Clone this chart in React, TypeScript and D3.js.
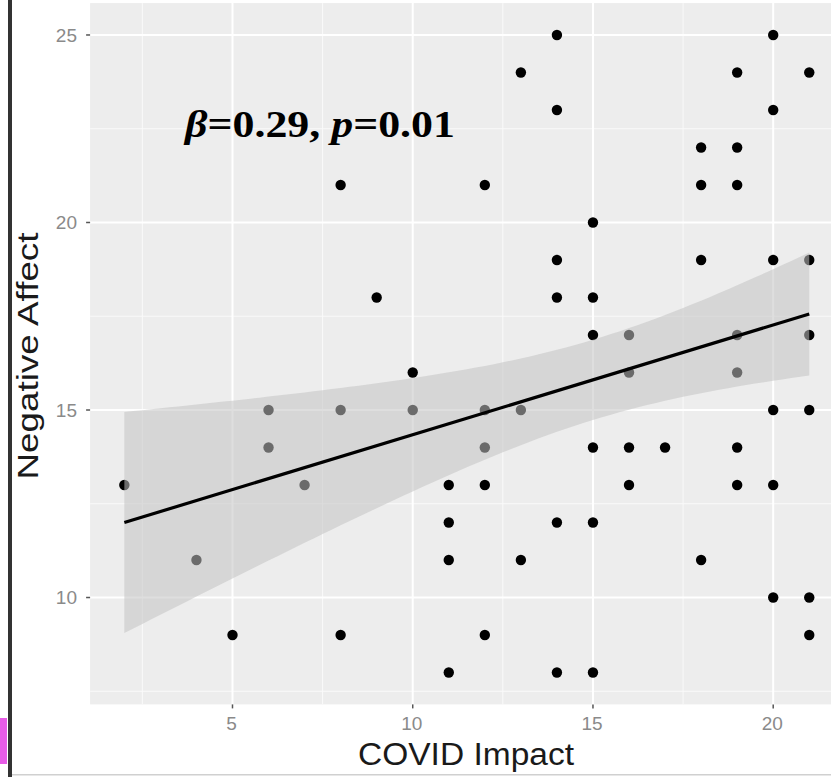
import React, { useEffect, useRef } from "react"
import * as d3 from "d3"

// scatter data (COVID Impact vs Negative Affect)
const impact = [
	2, 4, 5, 6, 6, 7, 8, 8, 8, 9, 10, 10,
	11, 11, 11, 11, 12, 12, 12, 12, 12, 13, 13, 13,
	14, 14, 14, 14, 14, 14, 15, 15, 15, 15, 15, 15,
	16, 16, 16, 16, 17, 18, 18, 18, 18,
	19, 19, 19, 19, 19, 19, 19, 20, 20, 20, 20, 20, 20,
	21, 21, 21, 21, 21, 21,
]
const negAffect = [
	13, 11, 9, 15, 14, 13, 21, 15, 9, 18, 16, 15,
	13, 12, 11, 8, 21, 15, 14, 13, 9, 24, 15, 11,
	25, 23, 19, 18, 12, 8, 20, 18, 17, 14, 12, 8,
	17, 16, 14, 13, 14, 22, 21, 19, 11,
	24, 22, 21, 17, 16, 14, 13, 25, 23, 19, 15, 13, 10,
	24, 19, 17, 15, 10, 9,
]

const xTicks = [5, 10, 15, 20]
const yTicks = [10, 15, 20, 25]
const xMinor = [2.5, 7.5, 12.5, 17.5]
const yMinor = [7.5, 12.5, 17.5, 22.5]

// lm fit: intercept, slope ; confidence band: mean x, a, b (halfwidth = sqrt(a + b*(x-mean)^2))
const fitCoef = [11.415, 0.2926]
const ciParams = [15.08, 1.145, 0.0441]

function Chart() {
	const mount = useRef<SVGSVGElement | null>(null)

	useEffect(() => {
		const svg = d3.select(mount.current)
		svg.selectAll("*").remove()

		const x = d3.scaleLinear().domain([1.05, 21.95]).range([90.1, 843.5])
		const y = d3.scaleLinear().domain([7.15, 25.85]).range([704.4, 3.1])

		// outer bits of the screenshot
		svg.append("rect").attr("x", 0).attr("y", 0).attr("width", 831).attr("height", 777).attr("fill", "#ffffff")

		// panel
		svg.append("rect")
			.attr("x", x(1.05)).attr("y", y(25.85))
			.attr("width", x(21.95) - x(1.05)).attr("height", y(7.15) - y(25.85))
			.attr("fill", "#ededed")

		const grid = svg.append("g")
		grid.selectAll("line.xminor").data(xMinor).enter().append("line")
			.attr("x1", d => x(d)).attr("x2", d => x(d)).attr("y1", y(7.15)).attr("y2", y(25.85))
			.attr("stroke", "#fafafa").attr("stroke-width", 1)
		grid.selectAll("line.yminor").data(yMinor).enter().append("line")
			.attr("y1", d => y(d)).attr("y2", d => y(d)).attr("x1", x(1.05)).attr("x2", x(21.95))
			.attr("stroke", "#fafafa").attr("stroke-width", 1)
		grid.selectAll("line.xmajor").data(xTicks).enter().append("line")
			.attr("x1", d => x(d)).attr("x2", d => x(d)).attr("y1", y(7.15)).attr("y2", y(25.85))
			.attr("stroke", "#ffffff").attr("stroke-width", 2)
		grid.selectAll("line.ymajor").data(yTicks).enter().append("line")
			.attr("y1", d => y(d)).attr("y2", d => y(d)).attr("x1", x(1.05)).attr("x2", x(21.95))
			.attr("stroke", "#ffffff").attr("stroke-width", 2)

		// points
		svg.append("g").selectAll("circle").data(impact).enter().append("circle")
			.attr("cx", d => x(d))
			.attr("cy", (d, i) => y(negAffect[i]))
			.attr("r", 5.2)
			.attr("fill", "#000000")

		// confidence ribbon over the points, like geom_smooth
		const fit = (v: number) => fitCoef[0] + fitCoef[1] * v
		const half = (v: number) => Math.sqrt(ciParams[1] + ciParams[2] * (v - ciParams[0]) ** 2)
		const xs = d3.range(d3.min(impact)!, d3.max(impact)! + 0.001, 0.25)
		const band = d3.area<number>()
			.x(d => x(d))
			.y0(d => y(fit(d) - half(d)))
			.y1(d => y(fit(d) + half(d)))
		svg.append("path").datum(xs).attr("d", band).attr("fill", "#c2c2c2").attr("fill-opacity", 0.55)

		const line = d3.line<number>().x(d => x(d)).y(d => y(fit(d)))
		svg.append("path").datum([d3.min(impact)!, d3.max(impact)!]).attr("d", line)
			.attr("stroke", "#000000").attr("stroke-width", 3.2).attr("fill", "none")

		// ticks + labels
		const axes = svg.append("g").attr("font-family", "'Liberation Sans', Arial, sans-serif")
		axes.selectAll("line.xt").data(xTicks).enter().append("line")
			.attr("x1", d => x(d)).attr("x2", d => x(d)).attr("y1", y(7.15)).attr("y2", y(7.15) + 4)
			.attr("stroke", "#555555").attr("stroke-width", 1.5)
		axes.selectAll("text.xt").data(xTicks).enter().append("text")
			.attr("x", d => x(d) - 1).attr("y", 730)
			.attr("text-anchor", "middle").attr("font-size", 19).attr("fill", "#8a8a8a")
			.text(d => d)
		axes.selectAll("line.yt").data(yTicks).enter().append("line")
			.attr("y1", d => y(d)).attr("y2", d => y(d)).attr("x1", x(1.05) - 4).attr("x2", x(1.05))
			.attr("stroke", "#555555").attr("stroke-width", 1.5)
		axes.selectAll("text.yt").data(yTicks).enter().append("text")
			.attr("x", 77).attr("y", d => y(d)).attr("dy", "0.36em")
			.attr("text-anchor", "end").attr("font-size", 19).attr("fill", "#8a8a8a")
			.text(d => d)

		// axis titles
		axes.append("text")
			.attr("x", 466).attr("y", 765)
			.attr("text-anchor", "middle").attr("font-size", 31).attr("fill", "#1a1a1a")
			.attr("textLength", 216).attr("lengthAdjust", "spacingAndGlyphs")
			.text("COVID Impact")
		axes.append("text")
			.attr("transform", "translate(38,356) rotate(-90)")
			.attr("text-anchor", "middle").attr("font-size", 29).attr("fill", "#1a1a1a")
			.attr("textLength", 247).attr("lengthAdjust", "spacingAndGlyphs")
			.text("Negative Affect")

		// annotation
		const note = svg.append("text")
			.attr("x", 185).attr("y", 137)
			.attr("font-family", "'Liberation Serif', 'Times New Roman', serif")
			.attr("font-weight", "bold").attr("font-size", 37).attr("fill", "#000000")
			.attr("textLength", 270).attr("lengthAdjust", "spacingAndGlyphs")
		note.append("tspan").attr("font-style", "italic").text("β")
		note.append("tspan").text("=0.29, ")
		note.append("tspan").attr("font-style", "italic").text("p")
		note.append("tspan").text("=0.01")

		// screenshot frame: dark bar, pink tab, bottom rule
		svg.append("rect").attr("x", 8).attr("y", 0).attr("width", 4).attr("height", 777).attr("fill", "#333333")
		svg.append("rect").attr("x", 0).attr("y", 718).attr("width", 7).attr("height", 46).attr("fill", "#e75ce6")
		svg.append("rect").attr("x", 12).attr("y", 774).attr("width", 819).attr("height", 1.5).attr("fill", "#d0d0d0")
	}, [])

	return <svg ref={mount} width={831} height={777} style={{ display: "block" }} />
}

export default function App() {
	return (
		<div style={{ position: "absolute", left: 0, top: 0, width: 831, height: 777, overflow: "hidden" }}>
			<Chart />
		</div>
	)
}
